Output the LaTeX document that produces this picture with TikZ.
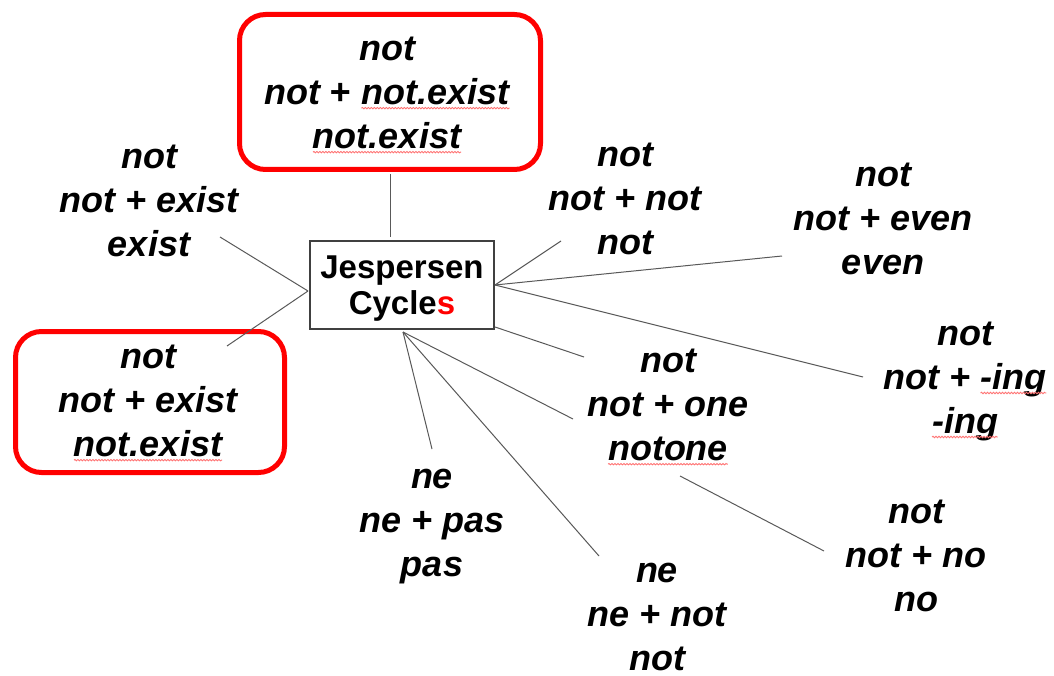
\documentclass[tikz,border=0pt]{standalone}
\usepackage{fontspec}
\setmainfont{Liberation Sans}
\usetikzlibrary{decorations.pathmorphing}
\newcommand\redwave[1]{\tikz[baseline=(wv.base)]{\node[inner sep=0pt,outer sep=0pt] (wv) {#1};
  \draw[red!55,line width=0.9pt,decorate,decoration={snake,amplitude=0.7pt,segment length=3pt}]
   ([yshift=-4pt]wv.base west) -- ([yshift=-4pt]wv.base east);}}
\begin{document}
\begin{tikzpicture}[x=1pt,y=-1pt,
  lbl/.style={align=center,inner sep=0pt,font=\bfseries\itshape\fontsize{36}{44}\selectfont},
  redbox/.style={draw=red,line width=5pt,rounded corners=26pt},
  conn/.style={draw=black!65,line width=1pt}]
\useasboundingbox (0,0) rectangle (1054,676);
% red frames
\draw[redbox] (239.5,14.5) rectangle (540.5,169.5);
\draw[redbox] (15.5,331.5) rectangle (284.5,472.5);
% centre
\node[draw=black!75,line width=1.3pt,minimum width=184pt,minimum height=88pt,inner sep=0pt] (jc) at (402,285) {};
\node[align=center,inner sep=0pt,font=\bfseries\fontsize{33}{36}\selectfont] (jct) at (402,289)
  {Jespersen\\Cycle\textcolor{red}{s}};
% labels
\node[lbl] (tA) at (387,95) {not\\not + \redwave{not.exist}\\\redwave{not.exist}};
\node[lbl] (tB) at (149,201) {not\\not + exist\\exist};
\node[lbl] (tC) at (148,403) {not\\not + exist\\\redwave{not.exist}};
\node[lbl] (tD) at (625,199) {not\\not + not\\not};
\node[lbl] (tE) at (883,219) {not\\not + even\\even};
\node[lbl] (tF) at (965,381) {not\\not + \redwave{-ing}\\\redwave{-ing}};
\node[lbl] (tG) at (668,407) {not\\not + one\\\redwave{notone}};
\node[lbl] (tH) at (432,527) {ne\\ne + pas\\pas};
\node[lbl] (tI) at (657,617) {ne\\ne + not\\not};
\node[lbl] (tJ) at (916,556) {not\\not + no\\no};
% connector points
\coordinate (pT) at (390,237);
\coordinate (pL) at (308,291);
\coordinate (pR) at (495,285);
\coordinate (pRB) at (495,327);
\coordinate (pB) at (403,332);
\coordinate (eA) at (390,174);
\coordinate (eB) at (220,237);
\coordinate (eC) at (227,346);
\coordinate (eD) at (561,241);
\coordinate (eE) at (782,256);
\coordinate (eF) at (863,377);
\coordinate (eG) at (584,357);
\coordinate (eG2) at (573,419);
\coordinate (eH) at (432,449);
\coordinate (eI) at (599,556);
\coordinate (sJ) at (680,476);
\coordinate (eJ) at (824,551);
% connectors
\draw[conn] (pT) -- (eA);
\draw[conn] (pL) -- (eB);
\draw[conn] (pL) -- (eC);
\draw[conn] (pR) -- (eD);
\draw[conn] (pR) -- (eE);
\draw[conn] (pR) -- (eF);
\draw[conn] (pRB) -- (eG);
\draw[conn] (pB) -- (eG2);
\draw[conn] (pB) -- (eH);
\draw[conn] (pB) -- (eI);
\draw[conn] (sJ) -- (eJ);
\end{tikzpicture}
\end{document}
